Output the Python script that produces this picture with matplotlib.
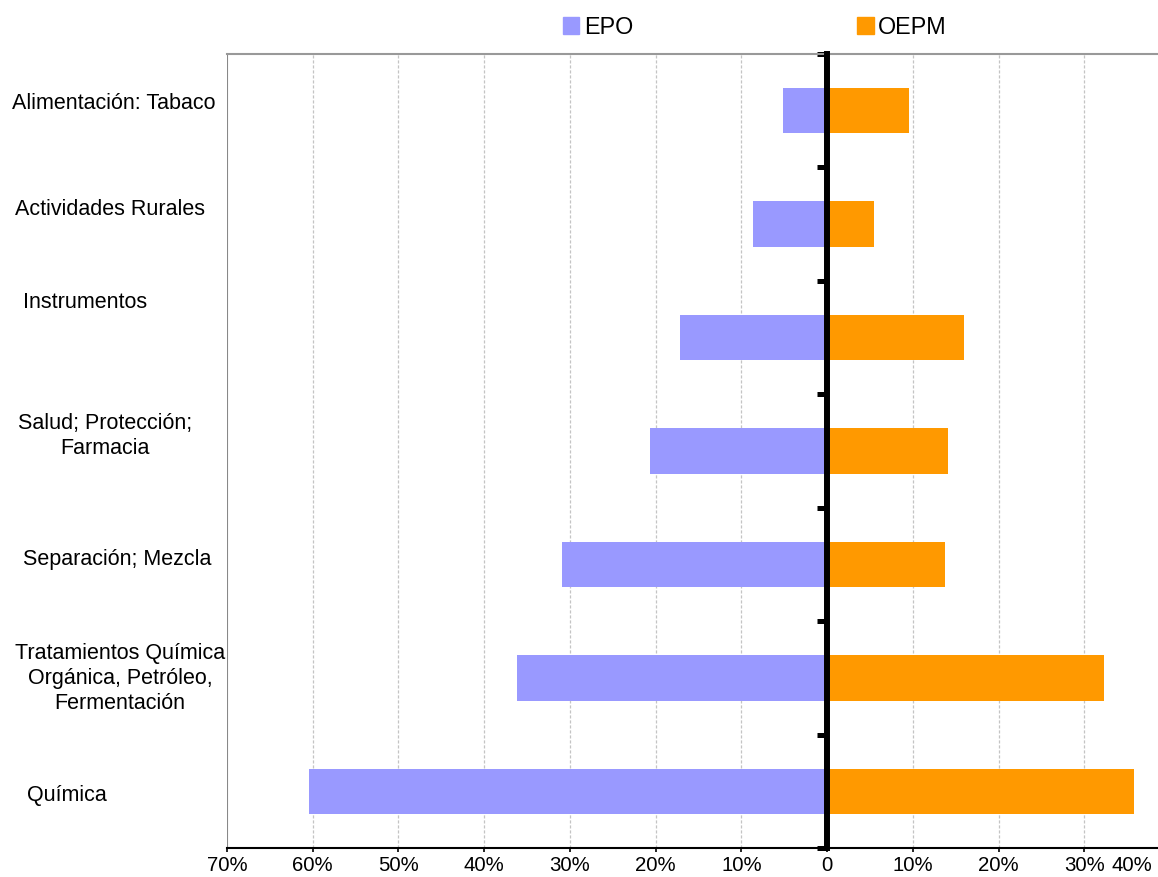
import numpy as np
import matplotlib
matplotlib.use("Agg")
import matplotlib.pyplot as plt
from matplotlib.patches import Patch
from matplotlib.ticker import FixedLocator, FuncFormatter
from matplotlib.transforms import ScaledTranslation, blended_transform_factory

plt.rcParams['font.family'] = ['Liberation Sans', 'DejaVu Sans']

# sectores, de arriba abajo
categories = ['Alimentación: Tabaco', 'Actividades Rurales', 'Instrumentos',
              'Salud; Protección;\nFarmacia', 'Separación; Mezcla',
              'Tratamientos Química\nOrgánica, Petróleo,\nFermentación', 'Química']
epo = [5.1, 8.6, 17.2, 20.7, 30.9, 36.2, 60.4]     # % EPO
oepm = [9.5, 5.5, 16.0, 14.1, 13.7, 32.3, 35.8]    # % OEPM
x_ticks = [-70, -60, -50, -40, -30, -20, -10, 0, 10, 20, 30, 40]

# posicion de las etiquetas de categoria (x en pixeles de figura, desplazamiento vertical en px)
label_x_px = [114, 110, 85, 105, 117, 120, 67]
label_dy_px = [7, 15, 35, 15, 5, -1, -4]

W, H = 1158, 877
fig = plt.figure(figsize=(W / 100, H / 100), dpi=100)
ax = fig.add_axes([227 / W, (H - 848) / H, (1170 - 227) / W, (848 - 54) / H])

n = len(categories)
y = np.arange(n)[::-1]

ax.barh(y, [-v for v in epo], height=0.40, color='#9999FF', zorder=2)
ax.barh(y, oepm, height=0.40, color='#FF9900', zorder=2)

ax.set_xlim(-70, 40)
ax.set_ylim(-0.5, n - 0.5)

# rejilla vertical discontinua
for xv in x_ticks:
    if xv not in (-70, 0):
        ax.axvline(xv, color='#C4C4C4', lw=0.9, ls=(0, (2.5, 1.5)), zorder=1)

# eje central en 0 con marcas entre categorias
ax.spines['left'].set_position(('data', 0))
ax.spines['left'].set_color('black')
ax.spines['left'].set_linewidth(4.3)
ax.spines['left'].set_zorder(3)
ax.yaxis.set_major_locator(FixedLocator(np.arange(n + 1) - 0.5))
ax.tick_params(axis='y', direction='out', length=7.5, width=3.6, color='black', labelleft=False)

ax.spines['right'].set_visible(False)
ax.spines['top'].set_color('#999999')
ax.spines['top'].set_linewidth(1.5)
ax.spines['bottom'].set_color('black')
ax.spines['bottom'].set_linewidth(1.5)
ax.axvline(-70, color='#888888', lw=1.5, zorder=1)

ax.xaxis.set_major_locator(FixedLocator(x_ticks))
ax.xaxis.set_major_formatter(FuncFormatter(lambda v, p: '0' if v == 0 else f'{abs(v):.0f}%'))
ax.tick_params(axis='x', direction='out', length=3, width=1.2, pad=3, labelsize=14.7)

# la ultima etiqueta queda fuera del borde: se alinea a la derecha
last = ax.get_xticklabels()[-1]
last.set_horizontalalignment('right')
last.set_transform(last.get_transform() + ScaledTranslation(-18 / 100, 0, fig.dpi_scale_trans))

trans = blended_transform_factory(fig.transFigure, ax.transData)
for i, name in enumerate(categories):
    ax.annotate(name, xy=(label_x_px[i] / W, y[i]), xycoords=trans,
                xytext=(0, label_dy_px[i]), textcoords='offset pixels',
                ha='center', va='center', multialignment='center',
                fontsize=15.5, linespacing=1.25, annotation_clip=False)

handles = [Patch(color='#9999FF', label='EPO'), Patch(color='#FF9900', label='OEPM')]
fig.legend(handles=handles, loc='center left', bbox_to_anchor=(563 / W, 1 - 27 / H),
           ncol=2, frameon=False, fontsize=16.8, handlelength=0.7, handleheight=0.7,
           handletextpad=0.2, columnspacing=9.6, borderpad=0, borderaxespad=0)

fig.savefig('out.png', dpi=100)
